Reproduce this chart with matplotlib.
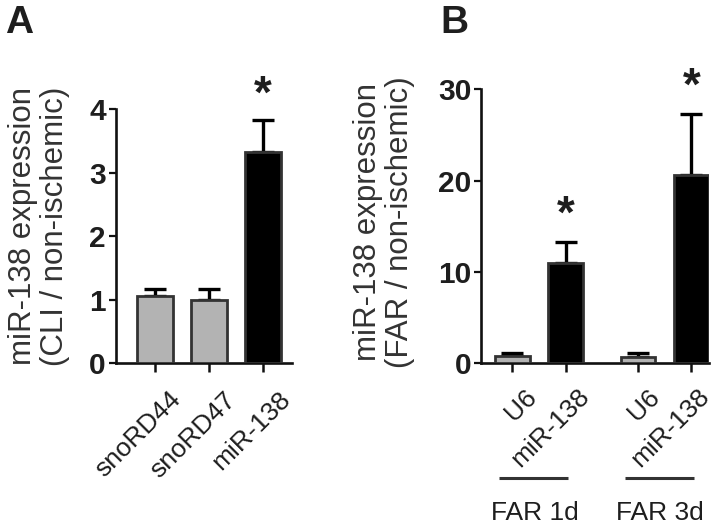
import matplotlib
matplotlib.use("Agg")
import matplotlib.pyplot as plt
from matplotlib.transforms import ScaledTranslation, blended_transform_factory
import numpy as np

plt.rcParams['font.family'] = ['Liberation Sans', 'DejaVu Sans']

# ---- data ----
catsA = ['snoRD44', 'snoRD47', 'miR-138']
meanA = [1.06, 1.00, 3.32]
semA = [0.11, 0.16, 0.51]
colorsA = ['#b3b3b3', '#b3b3b3', '#000000']
sigA = [False, False, True]
yticksA = [0, 1, 2, 3, 4]

catsB = ['U6', 'miR-138', 'U6', 'miR-138']
meanB = [0.8, 11.0, 0.7, 20.6]
semB = [0.35, 2.3, 0.4, 6.7]
colorsB = ['#b3b3b3', '#000000', '#b3b3b3', '#000000']
sigB = [False, True, False, True]
posB = [0, 1, 2.35, 3.35]
groupsB = ['FAR 1d', 'FAR 3d']
yticksB = [0, 10, 20, 30]

ylabelA = 'miR-138 expression\n(CLI / non-ischemic)'
ylabelB = 'miR-138 expression\n(FAR / non-ischemic)'

W, H = 716, 529
fig = plt.figure(figsize=(W / 100, H / 100), dpi=100)
TXT = '#1e1e1e'

def px_axes(l, r, t, b):
    return fig.add_axes([l / W, 1 - b / H, (r - l) / W, (b - t) / H])

def style(ax, yticks, ylim):
    for s in ['top', 'right']:
        ax.spines[s].set_visible(False)
    for s in ['left', 'bottom']:
        ax.spines[s].set_linewidth(1.9)
        ax.spines[s].set_color('#111111')
    ax.set_ylim(*ylim)
    ax.set_yticks(yticks)
    ax.set_yticklabels([str(v) for v in yticks], fontsize=21.5, fontweight='bold', color=TXT)
    ax.tick_params(axis='y', direction='out', length=5, width=1.6, pad=2, color='#111111')
    ax.tick_params(axis='x', direction='out', length=6.5, width=1.8, color='#111111')

def bars(ax, pos, mean, sem, colors, width):
    ax.bar(pos, mean, width=width, color=colors, edgecolor='#333333', linewidth=2.0, zorder=3)
    ax.errorbar(pos, mean, yerr=[np.zeros(len(mean)), sem], fmt='none', ecolor='black',
                elinewidth=2.4, capsize=8, capthick=2.4, zorder=2)

def stars(ax, pos, mean, sem, sig, off):
    for x, m, s, g in zip(pos, mean, sem, sig):
        if g:
            ax.annotate('*', xy=(x, m + s), xytext=(0, off), textcoords='offset points',
                        ha='center', va='baseline', fontsize=33, fontweight='bold',
                        color=TXT, annotation_clip=False)

def xlabels(ax, pos, labels, dx_pts, pad):
    ax.set_xticks(pos)
    ax.set_xticklabels(labels, rotation=45, ha='right', va='top', rotation_mode='anchor',
                       fontsize=19, color=TXT)
    ax.tick_params(axis='x', pad=pad)
    for lab, dx in zip(ax.get_xticklabels(), dx_pts):
        lab.set_transform(lab.get_transform() + ScaledTranslation(dx / 72, 0, fig.dpi_scale_trans))

# ---- Panel A ----
axA = px_axes(115.7, 291.7, 109.3, 363)
posA = np.arange(len(catsA))
bars(axA, posA, meanA, semA, colorsA, 0.667)
style(axA, yticksA, (0, 4))
axA.set_xlim(-0.72, 2.54)
xlabels(axA, posA, catsA, [10.2, 10.6, 11.2], 11)
stars(axA, posA, meanA, semA, sigA, 9)

# ---- Panel B ----
axB = px_axes(481, 709, 89.3, 363)
bars(axB, posB, meanB, semB, colorsB, 0.65)
style(axB, yticksB, (0, 30))
axB.set_xlim(-0.585, 3.68)
xlabels(axB, posB, catsB, [9, 8, 7, 4.5], 9)
stars(axB, posB, meanB, semB, sigB, 10)

# group brackets under panel B
trB = blended_transform_factory(axB.transData, fig.transFigure)
for gi, gname in enumerate(groupsB):
    gpos = posB[gi * 2: gi * 2 + 2]
    c = np.mean(gpos) - 0.1
    axB.plot([c - 0.65, c + 0.65], [1 - 478.3 / H] * 2, color='#333333', lw=2.2,
             transform=trB, clip_on=False, solid_capstyle='butt')
    axB.text(c + 0.02, 1 - 512.7 / H, gname, transform=trB, ha='center', va='center',
             fontsize=19, color=TXT)

# y labels
fig.text(39 / W, 1 - 226 / H, ylabelA, rotation=90, ha='center', va='center',
         fontsize=22.5, color='#333333', multialignment='center', linespacing=1.12)
fig.text(384 / W, 1 - 222 / H, ylabelB, rotation=90, ha='center', va='center',
         fontsize=22.5, color='#333333', multialignment='center', linespacing=1.12)

# panel letters
fig.text(5 / W, 1 - 33.3 / H, 'A', fontsize=28, fontweight='bold', color=TXT, ha='left', va='baseline')
fig.text(440 / W, 1 - 33.3 / H, 'B', fontsize=28, fontweight='bold', color=TXT, ha='left', va='baseline')

fig.savefig('out.png', dpi=100)
